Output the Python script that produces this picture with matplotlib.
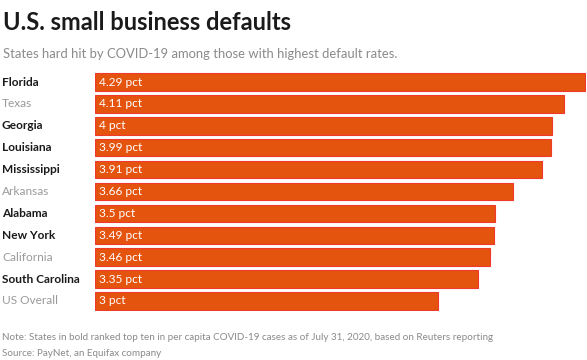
import matplotlib
matplotlib.use("Agg")
import matplotlib.pyplot as plt

states = ["Florida", "Texas", "Georgia", "Louisiana", "Mississippi", "Arkansas",
          "Alabama", "New York", "California", "South Carolina", "US Overall"]
values = [4.29, 4.11, 4.0, 3.99, 3.91, 3.66, 3.5, 3.49, 3.46, 3.35, 3.0]
value_labels = ["4.29 pct", "4.11 pct", "4 pct", "3.99 pct", "3.91 pct", "3.66 pct",
                "3.5 pct", "3.49 pct", "3.46 pct", "3.35 pct", "3 pct"]
bold = [True, False, True, True, True, False, True, True, False, True, False]

FONT = "Lato"
W, H = 587, 360
fig = plt.figure(figsize=(W / 100, H / 100), dpi=100)
fig.patch.set_facecolor("white")

left, right, top_px, bot_px = 95, 585.5, 72, 311
ax = fig.add_axes([left / W, 1 - bot_px / H, (right - left) / W, (bot_px - top_px) / H])
ypos = list(range(len(states)))
ax.barh(ypos, values, height=0.8, color="#E4540F", edgecolor="#F0392A", linewidth=0.8)
ax.set_xlim(0, max(values) + 0.005)
ax.set_ylim(10.457, -0.457)
ax.axis("off")

for y, lab in zip(ypos, value_labels):
    ax.text(0.035, y, lab, color="white", fontsize=8.6, family=FONT, va="center", ha="left")

for y, s, b in zip(ypos, states, bold):
    ax.annotate(s, xy=(0, y), xycoords=("figure fraction", "data"),
                xytext=(2, 0), textcoords="offset pixels",
                color="#1a1a1a" if b else "#9a9a9a",
                fontweight="bold" if b else "normal",
                fontsize=8.6, family=FONT, va="center", ha="left")

fig.text(3 / W, 1 - 22 / H, "U.S. small business defaults", fontsize=17,
         fontweight="bold", family=FONT, color="#1a1a1a", va="center", ha="left")
fig.text(3 / W, 1 - 54 / H, "States hard hit by COVID-19 among those with highest default rates.",
         fontsize=9.4, family=FONT, color="#8a8a8a", va="center", ha="left")
fig.text(2 / W, 1 - 337 / H,
         "Note: States in bold ranked top ten in per capita COVID-19 cases as of July 31, 2020, based on Reuters reporting",
         fontsize=7.1, family=FONT, color="#8a8a8a", va="center", ha="left")
fig.text(2 / W, 1 - 353 / H, "Source: PayNet, an Equifax company",
         fontsize=7.1, family=FONT, color="#8a8a8a", va="center", ha="left")

fig.savefig("out.png", dpi=100, facecolor="white")
